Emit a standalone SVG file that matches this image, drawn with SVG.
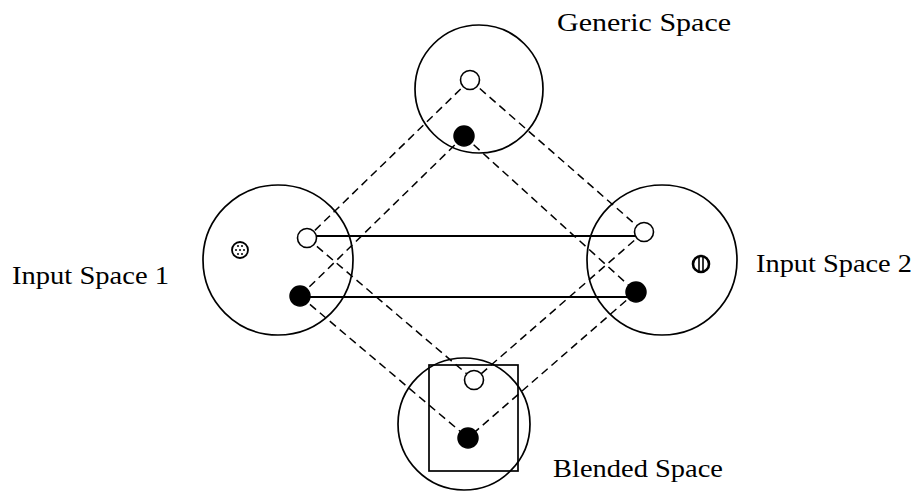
<svg xmlns="http://www.w3.org/2000/svg" width="916" height="491" viewBox="0 0 916 491">
<style>
.space{fill:none;stroke:#000;stroke-width:1.7}
.dash{stroke:#000;stroke-width:1.5;stroke-dasharray:8 5;fill:none}
.solid{stroke:#000;stroke-width:1.8;fill:none}
.open{fill:#fff;stroke:#000;stroke-width:1.6}
.fill{fill:#000;stroke:#000;stroke-width:1.5}
.lbl{font-family:"Liberation Serif","Times New Roman",serif;font-size:26px;fill:#000}
</style>
<rect width="916" height="491" fill="#fff"/>
<g id="generic-space">
<circle class="space" cx="479" cy="89" r="64"/>
</g>
<g id="input-space-1">
<circle class="space" cx="278" cy="260" r="75"/>
<g id="icon-dotted">
<circle cx="240" cy="250" r="8" fill="#fff" stroke="#000" stroke-width="1.8"/>
<g fill="#000">
<circle cx="238" cy="246" r="1"/><circle cx="242" cy="246" r="1"/>
<circle cx="236" cy="250" r="1"/><circle cx="240" cy="250" r="1"/><circle cx="244" cy="250" r="1"/>
<circle cx="238" cy="254" r="1"/><circle cx="242" cy="254" r="1"/>
</g>
</g>
</g>
<g id="input-space-2">
<circle class="space" cx="662" cy="260" r="75"/>
<g id="icon-striped">
<circle cx="701" cy="264" r="8" fill="#fff" stroke="#000" stroke-width="2.6"/>
<line x1="699" y1="257" x2="699" y2="271" stroke="#000" stroke-width="1.6"/>
<line x1="703" y1="257" x2="703" y2="271" stroke="#000" stroke-width="1.6"/>
</g>
</g>
<g id="blended-space">
<circle class="space" cx="464" cy="424" r="66"/>
<rect x="429" y="365" width="89" height="106" class="space"/>
</g>
<g id="connectors">
<line class="dash" x1="470" y1="80" x2="307" y2="238"/>
<line class="dash" x1="470" y1="80" x2="644" y2="232"/>
<line class="dash" x1="464" y1="136" x2="300" y2="296"/>
<line class="dash" x1="464" y1="136" x2="636" y2="292"/>
<line class="dash" x1="307" y1="238" x2="474" y2="380"/>
<line class="dash" x1="300" y1="296" x2="468" y2="438"/>
<line class="dash" x1="644" y1="232" x2="474" y2="380"/>
<line class="dash" x1="636" y1="292" x2="468" y2="438"/>
<line class="solid" x1="307" y1="236" x2="640" y2="236"/>
<line class="solid" x1="300" y1="297" x2="632" y2="297"/>
</g>
<g id="elements">
<circle class="open" cx="470" cy="80" r="9.5"/>
<circle class="fill" cx="464" cy="136" r="10"/>
<circle class="open" cx="307" cy="238" r="9.5"/>
<circle class="fill" cx="300" cy="296" r="10"/>
<circle class="open" cx="644" cy="232" r="9.5"/>
<circle class="fill" cx="636" cy="292" r="10"/>
<circle class="open" cx="474" cy="380" r="9.5"/>
<circle class="fill" cx="468" cy="438" r="10"/>
</g>
<g id="labels">
<text class="lbl" x="557" y="31" textLength="174" lengthAdjust="spacingAndGlyphs">Generic Space</text>
<text class="lbl" x="12" y="284" textLength="157" lengthAdjust="spacingAndGlyphs">Input Space 1</text>
<text class="lbl" x="756" y="272" textLength="156" lengthAdjust="spacingAndGlyphs">Input Space 2</text>
<text class="lbl" x="553" y="477" textLength="170" lengthAdjust="spacingAndGlyphs">Blended Space</text>
</g>
</svg>
